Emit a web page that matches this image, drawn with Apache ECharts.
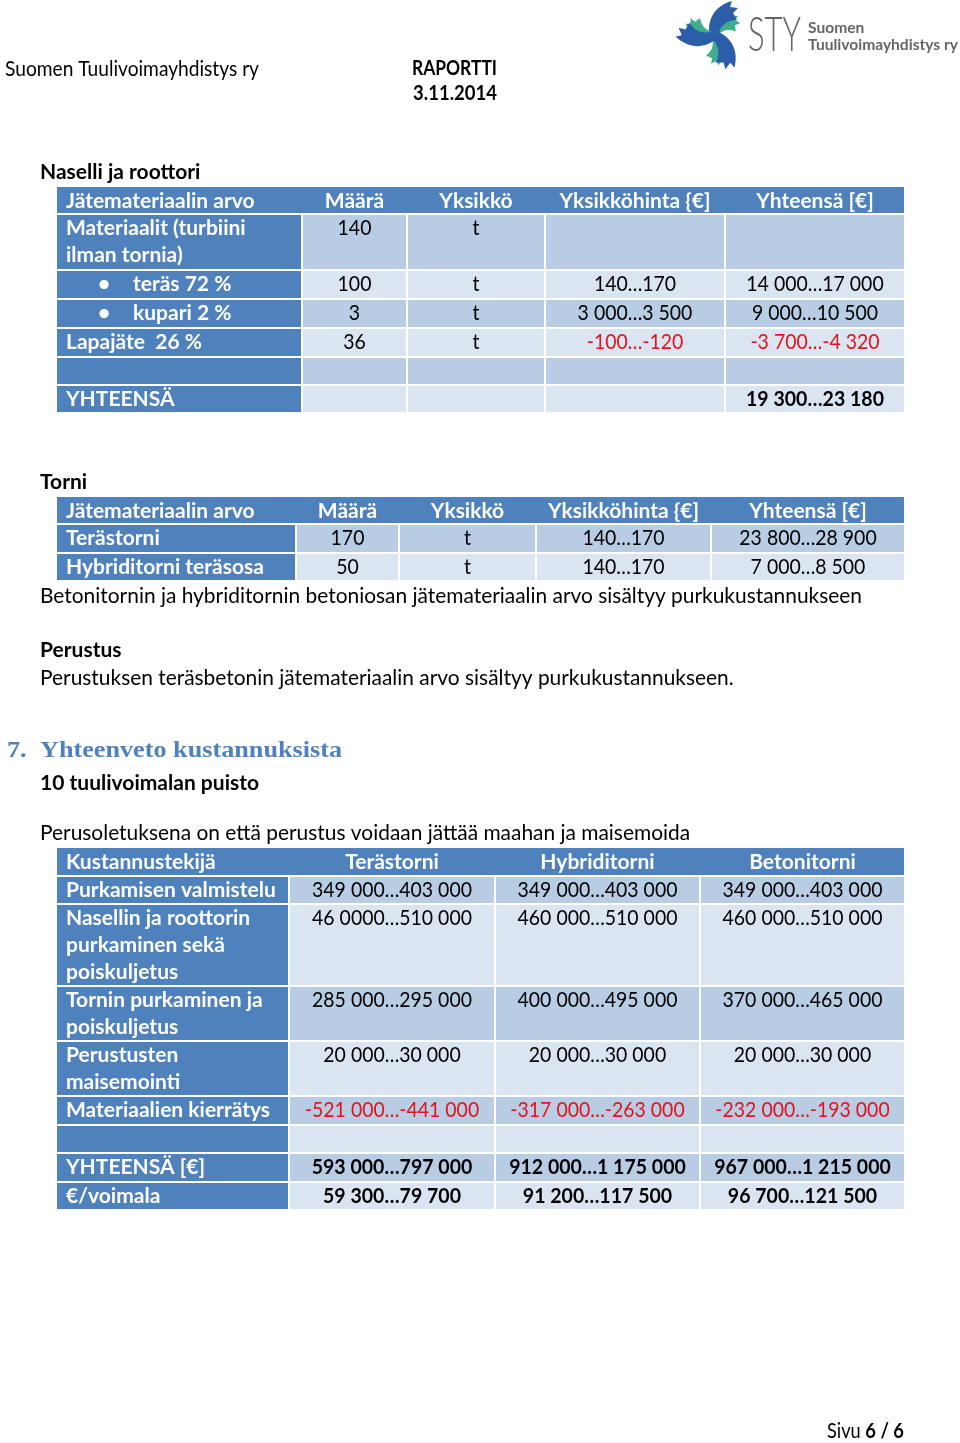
<!DOCTYPE html>
<html><head><meta charset="utf-8">
<script src="https://cdn.jsdelivr.net/npm/echarts@6/dist/echarts.min.js"></script>
<style>html,body{margin:0;padding:0;background:#fff}#c{width:960px;height:1443px}</style>
</head><body><div id="c"></div>
<script>
// ---------- DATA ----------
const pageHeaderLeft = 'Suomen Tuulivoimayhdistys ry';
const reportTitle = 'RAPORTTI';
const reportDate = '3.11.2014';
const logoLetters = 'STY';
const logoLine1 = 'Suomen';
const logoLine2 = 'Tuulivoimayhdistys ry';

const t1Title = 'Naselli ja roottori';
const t1Header = ['Jätemateriaalin arvo', 'Määrä', 'Yksikkö', 'Yksikköhinta {€]', 'Yhteensä [€]'];
const t1Labels = ['Materiaalit (turbiini\nilman tornia)', 'teräs 72 %', 'kupari 2 %', 'Lapajäte  26 %', '', 'YHTEENSÄ'];
const t1Bullets = [false, true, true, false, false, false];
const t1Maara = ['140', '100', '3', '36', '', ''];
const t1Yksikko = ['t', 't', 't', 't', '', ''];
const t1Hinta = ['', '140…170', '3 000…3 500', '-100…-120', '', ''];
const t1Yhteensa = ['', '14 000…17 000', '9 000…10 500', '-3 700…-4 320', '', '19 300…23 180'];

const t2Title = 'Torni';
const t2Header = ['Jätemateriaalin arvo', 'Määrä', 'Yksikkö', 'Yksikköhinta {€]', 'Yhteensä [€]'];
const t2Labels = ['Terästorni', 'Hybriditorni teräsosa'];
const t2Maara = ['170', '50'];
const t2Yksikko = ['t', 't'];
const t2Hinta = ['140…170', '140…170'];
const t2Yhteensa = ['23 800…28 900', '7 000…8 500'];
const t2Note = 'Betonitornin ja hybriditornin betoniosan jätemateriaalin arvo sisältyy purkukustannukseen';

const perustusTitle = 'Perustus';
const perustusText = 'Perustuksen teräsbetonin jätemateriaalin arvo sisältyy purkukustannukseen.';

const sectionNumber = '7.';
const sectionTitle = 'Yhteenveto kustannuksista';
const sectionSub = '10 tuulivoimalan puisto';
const sectionNote = 'Perusoletuksena on että perustus voidaan jättää maahan ja maisemoida';

const t3Header = ['Kustannustekijä', 'Terästorni', 'Hybriditorni', 'Betonitorni'];
const t3Labels = ['Purkamisen valmistelu', 'Nasellin ja roottorin\npurkaminen sekä\npoiskuljetus', 'Tornin purkaminen ja\npoiskuljetus', 'Perustusten\nmaisemointi', 'Materiaalien kierrätys', '', 'YHTEENSÄ [€]', '€/voimala'];
const t3Terastorni = ['349 000…403 000', '46 0000…510 000', '285 000…295 000', '20 000…30 000', '-521 000…-441 000', '', '593 000…797 000', '59 300…79 700'];
const t3Hybriditorni = ['349 000…403 000', '460 000…510 000', '400 000…495 000', '20 000…30 000', '-317 000…-263 000', '', '912 000…1 175 000', '91 200…117 500'];
const t3Betonitorni = ['349 000…403 000', '460 000…510 000', '370 000…465 000', '20 000…30 000', '-232 000…-193 000', '', '967 000…1 215 000', '96 700…121 500'];

const pageFooterLabel = 'Sivu ';
const pageFooterNum = '6 / 6';

// ---------- STYLE / LAYOUT ----------
const BLUE = '#4F81BD', DARK = '#B8CCE4', LIGHT = '#DBE5F1', RED = '#E3131B', GRAY = '#646569';
const FAM = 'Lato, "Open Sans", sans-serif';
const SERIF = '"Liberation Serif", "DejaVu Serif", serif';
const cv = document.createElement('canvas').getContext('2d');
function mw(t, font) { cv.font = font; return cv.measureText(t).width; }
function fit(t, w, pre, fam) { return 20 * w / mw(t, pre + ' 20px ' + (fam || FAM)); }
const S = fit(t2Note, 822, 'normal');
const SB = fit('Purkamisen valmistelu', 210, 'bold');
const NUMK = 0.93;
const LH = 27;

const els = [];
function rect(x, y, w, h, c) { els.push({ type: 'rect', silent: true, shape: { x, y, width: w, height: h }, style: { fill: c } }); }
function txt(x, y, s, o) {
  o = o || {};
  const size = o.size || (o.bold ? SB : S);
  const font = (o.bold ? 'bold ' : (o.weight ? o.weight + ' ' : '')) + size.toFixed(2) + 'px ' + (o.fam || FAM);
  const sx = o.w ? o.w / mw(s, font) : (o.sx || 1);
  els.push({ type: 'text', x, y, scaleX: sx, silent: true, style: {
    text: s, fill: o.color || '#000', font,
    textAlign: o.align || 'left', textVerticalAlign: o.va || 'middle', lineHeight: o.lh || LH
  } });
}

function drawTable(cols, tops, header, body, o) {
  o = o || {};
  const n = cols.length - 1, right = cols[n];
  const colX = i => i === 0 ? cols[0] + 9 : (cols[i] + cols[i + 1] - (i < n - 1 ? 2 : 0)) / 2;
  rect(cols[0], tops[0], right - cols[0], tops[1] - tops[0] - 2, BLUE);
  header.forEach((h, i) => txt(colX(i), tops[0] + 0.5, h, { bold: true, color: '#fff', align: i ? 'center' : 'left', va: 'top' }));
  body.forEach((row, r) => {
    const top = tops[r + 1], h = tops[r + 2] - top - 2, fill = r % 2 === 0 ? DARK : LIGHT;
    for (let i = 0; i < n; i++) rect(cols[i], top, cols[i + 1] - cols[i] - (i < n - 1 ? 2 : 0), h, i === 0 ? BLUE : fill);
    row.forEach((v, i) => {
      if (!v) return;
      if (i === 0) {
        if (o.bullets && o.bullets[r]) {
          txt(cols[0] + 47, top, '•', { bold: true, color: '#fff', align: 'center', va: 'top' });
          txt(cols[0] + 76, top, v, { bold: true, color: '#fff', va: 'top' });
        } else txt(colX(0), top, v, { bold: true, color: '#fff', va: 'top' });
      } else {
        const red = o.red && o.red[0] === r && o.red[1].includes(i);
        const bold = o.boldRows && o.boldRows.includes(r);
        txt(colX(i), top, v, { color: red ? RED : '#000', bold, sx: NUMK, align: 'center', va: 'top' });
      }
    });
  });
}

// ---------- PAGE HEADER ----------
txt(5, 69, pageHeaderLeft, { w: 254 });
txt(412, 68, reportTitle, { bold: true, w: 85 });
txt(413, 93, reportDate, { bold: true, w: 84 });

// logo emblem: three crescent blades sampled into polygons
function bez(p0, p1, p2, p3, n) {
  const out = [];
  for (let i = 0; i <= n; i++) {
    const t = i / n, u = 1 - t;
    out.push([u*u*u*p0[0] + 3*u*u*t*p1[0] + 3*u*t*t*p2[0] + t*t*t*p3[0], u*u*u*p0[1] + 3*u*u*t*p1[1] + 3*u*t*t*p2[1] + t*t*t*p3[1]]);
  }
  return out;
}
function blade(scale) {
  const outer = bez([-4, 2], [-8, -14], [0, -29], [18, -34], 16);
  const notch = [[16, -28], [24, -27], [19, -22], [23, -15]];
  const inner = bez([23, -15], [12, -15], [5, -8], [4, 2], 16);
  return outer.concat(notch, inner).map(p => [p[0] * scale, p[1] * scale]);
}
function rot(pts, ang, cx, cy) {
  const c = Math.cos(ang), s = Math.sin(ang);
  return pts.map(p => [cx + p[0] * c - p[1] * s, cy + p[0] * s + p[1] * c]);
}
[0, 1, 2].forEach(k => {
  const ang = k * 2 * Math.PI / 3;
  els.push({ type: 'polygon', silent: true, shape: { points: rot(blade(0.8), ang + 0.42, 714, 35) }, style: { fill: '#3FAE8C' } });
  els.push({ type: 'polygon', silent: true, shape: { points: rot(blade(1), ang, 714, 35) }, style: { fill: '#2C5DA8' } });
});
txt(748, 36, logoLetters, { size: 47, weight: 300, color: GRAY, w: 53, lh: 50 });
txt(808, 28, logoLine1, { size: 16, bold: true, color: GRAY, sx: 150 / mw(logoLine2, 'bold 16px ' + FAM) });
txt(808, 45, logoLine2, { size: 16, bold: true, color: GRAY, w: 150 });

// ---------- TABLE 1 ----------
txt(40, 172, t1Title, { bold: true });
drawTable([57, 303, 408, 546, 726, 904], [187, 215, 271, 300, 329, 358, 386, 414], t1Header,
  t1Labels.map((l, r) => [l, t1Maara[r], t1Yksikko[r], t1Hinta[r], t1Yhteensa[r]]),
  { bullets: t1Bullets, red: [3, [3, 4]], boldRows: [5] });

// ---------- TABLE 2 ----------
txt(40, 482, t2Title, { bold: true });
drawTable([57, 297, 400, 537, 712, 904], [497, 525, 554, 582], t2Header,
  t2Labels.map((l, r) => [l, t2Maara[r], t2Yksikko[r], t2Hinta[r], t2Yhteensa[r]]));
txt(40, 596, t2Note);
txt(40, 650, perustusTitle, { bold: true });
txt(40, 678, perustusText);

// ---------- SECTION 7 ----------
const SH = 23;
const shx = 302 / mw(sectionTitle, 'bold 23px ' + SERIF);
txt(7, 751, sectionNumber, { bold: true, size: SH, fam: SERIF, color: BLUE, sx: shx });
txt(40, 751, sectionTitle, { bold: true, size: SH, fam: SERIF, color: BLUE, sx: shx });
txt(40, 783, sectionSub, { bold: true });
txt(40, 833, sectionNote);
drawTable([57, 290, 496, 701, 904], [848, 877, 905, 987, 1042, 1097, 1126, 1154, 1183, 1211], t3Header,
  t3Labels.map((l, r) => [l, t3Terastorni[r], t3Hybriditorni[r], t3Betonitorni[r]]),
  { red: [4, [1, 2, 3]], boldRows: [6, 7] });

// ---------- FOOTER ----------
const footW = mw(pageFooterLabel, S.toFixed(2) + 'px ' + FAM) + mw(pageFooterNum, 'bold ' + SB.toFixed(2) + 'px ' + FAM);
els.push({ type: 'text', x: 827, y: 1431, scaleX: 77 / footW, silent: true, style: {
  text: '{a|' + pageFooterLabel + '}{b|' + pageFooterNum + '}', textVerticalAlign: 'middle',
  rich: { a: { fontFamily: FAM, fontSize: S, fill: '#000', color: '#000' }, b: { fontFamily: FAM, fontSize: SB, fontWeight: 'bold', fill: '#000', color: '#000' } }
} });

const chart = echarts.init(document.getElementById('c'), null, { renderer: 'canvas', width: 960, height: 1443 });
chart.setOption({ backgroundColor: '#fff', animation: false, graphic: { elements: els } });
</script>
</body></html>
